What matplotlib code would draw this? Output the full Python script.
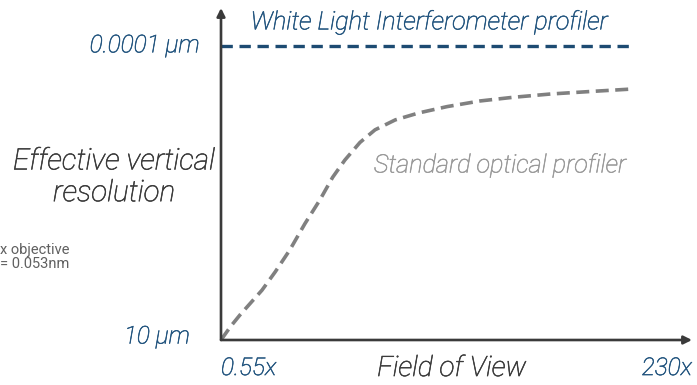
import numpy as np
import matplotlib.pyplot as plt
import matplotlib.patheffects as pe

# curve (normalised axes: 0 = origin, 1 = arrow tip)
fov = [0.0, 0.02, 0.04, 0.065, 0.087, 0.115, 0.146, 0.178, 0.21, 0.237, 0.263,
       0.295, 0.327, 0.37, 0.42, 0.48, 0.55, 0.62, 0.70, 0.79, 0.873]
standard_res = [0.0, 0.04, 0.075, 0.115, 0.15, 0.205, 0.271, 0.35, 0.422, 0.49, 0.542,
                0.595, 0.633, 0.663, 0.684, 0.703, 0.72, 0.731, 0.741, 0.749, 0.756]
wli_fov = [0.0, 0.873]
wli_res = [0.886, 0.886]

y_ticks = ["10 µm", "0.0001 µm"]
x_ticks = ["0.55x", "230x"]

BLUE = "#1d4b72"
BLUE_TXT = "#23557f"
GRAY = "#808080"
DARK = "#3a3a3a"
LIGHT_GRAY = "#9a9a9a"

plt.rcParams["font.family"] = ["Roboto", "DejaVu Sans"]

fig = plt.figure(figsize=(6.97, 3.85), dpi=100)
ax = fig.add_axes([221 / 697, 1 - 340 / 385, 471 / 697, 332 / 385])
ax.set_xlim(0, 1)
ax.set_ylim(0, 1)
ax.axis("off")

ax.plot(fov, standard_res, color=GRAY, lw=2.6, ls=(0, (3.6, 1.8)), solid_capstyle="butt")
ax.plot(wli_fov, wli_res, color=BLUE, lw=2.4, ls=(0, (3.4, 2.0)))

# axes with arrow heads
for tip in [(0, 1.0), (1.0, 0)]:
    ax.annotate("", xy=tip, xytext=(0, 0), xycoords="axes fraction",
                arrowprops=dict(arrowstyle="-|>", color=DARK, lw=1.9, mutation_scale=12,
                                shrinkA=0, shrinkB=0))


def label(x, y, s, color, size, **kw):
    # thin italic face, slightly thickened by a same-coloured stroke
    ax.text(x, y, s, color=color, fontsize=size, style="italic", fontweight="light",
            va="center", clip_on=False,
            path_effects=[pe.withStroke(linewidth=0.4, foreground=color)], **kw)


label(-0.045, 0.886, y_ticks[1], BLUE_TXT, 17.6, ha="right")
label(-0.066, 0.009, y_ticks[0], BLUE_TXT, 17.6, ha="right")
label(0.0, -0.086, x_ticks[0], BLUE_TXT, 17.6, ha="left")
label(1.0, -0.086, x_ticks[1], BLUE_TXT, 17.6, ha="right")

label(0.49, -0.086, "Field of View", DARK, 20.3, ha="center")
label(-0.227, 0.49, "Effective vertical\nresolution", DARK, 21.3, ha="center",
      linespacing=1.17)

label(0.442, 0.958, "White Light Interferometer profiler", BLUE_TXT, 18.2, ha="center")
label(0.592, 0.527, "Standard optical profiler", LIGHT_GRAY, 18.2, ha="center")

# small note at the left edge
fig.text(0.0, 1 - 257 / 385, "x objective\n= 0.053nm", color="#606060", fontsize=10.5,
         ha="left", va="center", linespacing=1.0)

fig.savefig("out.png", dpi=100)
